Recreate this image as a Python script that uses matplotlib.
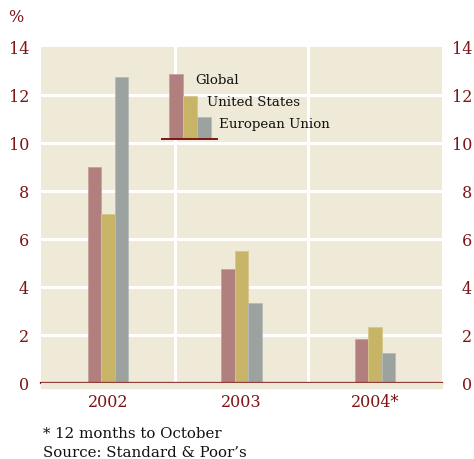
import matplotlib
matplotlib.use("Agg")
import matplotlib.pyplot as plt
from matplotlib.patches import Rectangle
import matplotlib.transforms as mtransforms
import numpy as np

categories = ["2002", "2003", "2004*"]
series_names = ["Global", "United States", "European Union"]
global_vals = [9.0, 4.75, 1.85]
us_vals = [7.05, 5.5, 2.35]
eu_vals = [12.75, 3.35, 1.25]
yticks = [0, 2, 4, 6, 8, 10, 12, 14]

colors = ["#b17f7e", "#c7b467", "#9ca2a0"]
edges = ["#c9a09e", "#d6c78c", "#b7bcba"]
red = "#7d1517"
bg = "#efe9d7"

plt.rcParams["font.family"] = ["DejaVu Serif"]

fig = plt.figure(figsize=(4.74, 4.59), dpi=100)
ax = fig.add_axes([41/474, 1-383/459, 401/474, 336/459])
ax.set_facecolor(bg)
ax.set_xlim(-0.5, 2.5)
ax.set_ylim(0, 14)

x = np.arange(len(categories))
w = 0.1
for i, vals in enumerate([global_vals, us_vals, eu_vals]):
    ax.bar(x + (i - 1) * w, vals, width=w, color=colors[i], edgecolor=edges[i],
           linewidth=0.6, zorder=3)

for y in yticks[1:-1]:
    ax.axhline(y, color="white", lw=2.2, zorder=1)
for xv in [0.5, 1.5]:
    ax.axvline(xv, color="white", lw=2.2, zorder=1)
ax.axhline(0, color=red, lw=1.6, zorder=4, clip_on=False)

for s in ax.spines.values():
    s.set_visible(False)
ax.tick_params(length=0)
ax.set_xticks(x)
ax.set_xticklabels(categories, color=red, fontsize=11.5)
ax.tick_params(axis="x", pad=8)
ax.set_yticks(yticks)
ax.set_yticklabels([str(v) for v in yticks], color=red, fontsize=11.5)
ax.tick_params(axis="y", pad=8.6)

# right-side tick labels, right-aligned at the figure edge
rt = mtransforms.blended_transform_factory(ax.transAxes, ax.transData)
for v in yticks:
    ax.text((472 - 41) / 401, v, str(v), transform=rt, ha="right",
            va="center_baseline", color=red, fontsize=11.5, clip_on=False)

# background slightly below zero line
fig.patches.append(Rectangle((41/474, 1-388/459), 401/474, 5/459,
                             transform=fig.transFigure, color=bg, zorder=0))

# legend (custom)
lx = [169, 183, 197]
ltop = [74, 96, 117]
base = 139
for i in range(3):
    fig.patches.append(Rectangle((lx[i]/474, 1-base/459), 13.5/474, (base-ltop[i])/459,
                                 transform=fig.transFigure, facecolor=colors[i],
                                 edgecolor=edges[i], linewidth=0.6, zorder=5))
fig.add_artist(plt.Line2D([162/474, 217/474], [1-base/459, 1-base/459],
                          transform=fig.transFigure, color=red, lw=1.4, zorder=6))
lab_x = [195, 207, 219]
lab_y = [80, 102, 124]
for i in range(3):
    fig.text(lab_x[i]/474, 1-lab_y[i]/459, series_names[i], fontsize=9.6,
             color="#111111", va="center", ha="left")

fig.text(8/474, 1-18/459, "%", fontsize=11.5, color=red, va="center", ha="left")
fig.text(43/474, 1-434/459, "* 12 months to October", fontsize=10.8, color="#111111",
         va="center", ha="left")
fig.text(43/474, 1-453/459, "Source: Standard & Poor\u2019s", fontsize=10.8, color="#111111",
         va="center", ha="left")

fig.savefig("out.png", dpi=100, facecolor="white")
